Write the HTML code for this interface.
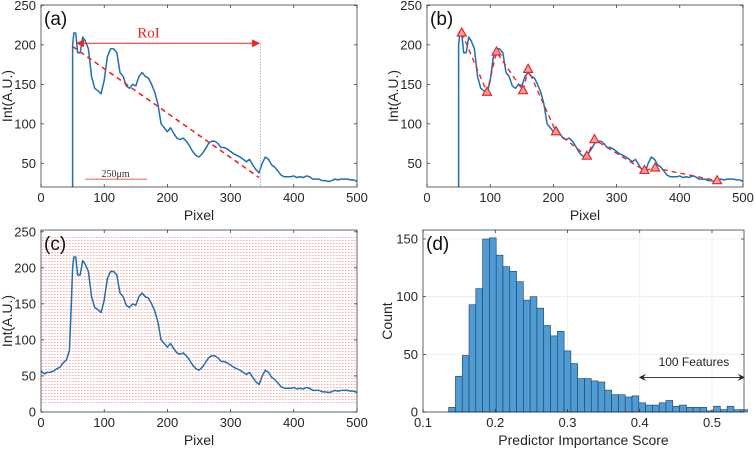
<!DOCTYPE html>
<html><head><meta charset="utf-8">
<style>
html,body{margin:0;padding:0;background:#fff;}
svg{display:block;font-family:"Liberation Sans",Arial,sans-serif;}
</style></head>
<body>
<svg id="fig" width="755" height="451" viewBox="0 0 755 451" xmlns="http://www.w3.org/2000/svg">
<defs>
<pattern id="dots" width="3" height="3" patternUnits="userSpaceOnUse">
<rect x="0" y="0" width="1.6" height="1" fill="#f5b0b0"/>
</pattern>
<marker id="arrR" markerWidth="8" markerHeight="8" refX="7" refY="4" orient="auto"><path d="M0,0 L8,4 L0,8 z" fill="#e8272a"/></marker>
<marker id="arrL" markerWidth="8" markerHeight="8" refX="1" refY="4" orient="auto"><path d="M8,0 L0,4 L8,8 z" fill="#e8272a"/></marker>
<marker id="kR" markerWidth="8" markerHeight="8" refX="7" refY="4" orient="auto"><path d="M0,0 L8,4 L0,8 L3,4 z" fill="#222"/></marker>
<marker id="kL" markerWidth="8" markerHeight="8" refX="1" refY="4" orient="auto"><path d="M8,0 L0,4 L8,8 L5,4 z" fill="#222"/></marker>
</defs>
</svg>
<script>
// ---- data ----
const pixelX = [0,5,10,15,20,25,30,35,40,45,48,50,52,55,58,62,66,70,75,80,85,90,95,100,105,110,115,120,125,130,135,140,145,150,155,160,165,170,175,180,185,190,195,200,205,210,215,220,225,230,235,240,245,250,255,260,265,270,275,280,285,290,295,300,305,310,315,320,325,330,335,340,345,350,355,360,365,370,375,380,385,390,395,400,405,410,415,420,425,430,435,440,445,450,455,460,465,470,475,480,485,490,495,500];
const intensity = [57,53,55,55,57,60,62,68,72,85,150,200,215,215,190,190,210,205,195,160,145,142,138,155,185,195,195,190,165,160,148,145,150,148,160,165,160,158,150,140,125,100,95,90,95,88,82,80,82,78,72,65,60,58,62,68,75,78,78,75,70,70,68,65,62,60,58,55,52,55,48,42,38,50,58,55,48,45,40,35,33,33,33,34,32,33,32,34,33,30,30,30,28,28,27,28,30,29,30,30,30,29,29,27];
const peakX = [55,95,110,152,160,204,253,265,344,361,459];
const peakY = [215,140,191,142,169,90,59,80,41,44,28];
const binStart = 0.1355;
const binWidth = 0.0094;
const binCounts = [4,31,49,93,107,150,151,136,126,122,113,97,100,90,75,66,70,53,42,29,29,27,26,19,15,15,13,14,8,6,6,8,10,5,6,4,4,4,1,5,2,5,2,2];
const xTicksPixel = [0,100,200,300,400,500];
const yTicksAB = [50,100,150,200,250];
const yTicksC = [0,50,100,150,200,250];
const xTicksD = [0.1,0.2,0.3,0.4,0.5];
const yTicksD = [0,50,100,150];

const NS="http://www.w3.org/2000/svg";
const svg=document.getElementById('fig');
function mk(tag,attrs,parent,text){const e=document.createElementNS(NS,tag);for(const k in attrs)e.setAttribute(k,attrs[k]);if(text!==undefined)e.textContent=text;(parent||svg).appendChild(e);return e;}

function panel(name,L,R,T,B,x0,x1,y0,y1){
  const g=mk('g',{});
  
  
  return {g,L,R,T,B,sx:v=>L+(v-x0)/(x1-x0)*(R-L),sy:v=>B-(v-y0)/(y1-y0)*(B-T)};
}
function axes(p,xt,yt,xfmt,grid,xlabel,ylabel,letter,lx){
  const {g}=p;
  if(grid){
    xt.forEach(v=>{const l=mk('line',{x1:p.sx(v),x2:p.sx(v),y1:p.T,y2:p.B,stroke:'#ececec','stroke-width':0.8},g);});
    yt.forEach(v=>{const l=mk('line',{x1:p.L,x2:p.R,y1:p.sy(v),y2:p.sy(v),stroke:'#ececec','stroke-width':0.8},g);});
  }
  return function(){
    const box=mk('rect',{x:p.L,y:p.T,width:p.R-p.L,height:p.B-p.T,fill:'none',stroke:'#262626','stroke-width':0.7},g);
    
    xt.forEach(v=>{const x=p.sx(v);
      mk('line',{x1:x,x2:x,y1:p.B,y2:p.B-3,stroke:'#262626','stroke-width':0.7},g);
      mk('line',{x1:x,x2:x,y1:p.T,y2:p.T+3,stroke:'#262626','stroke-width':0.7},g);
      const t=mk('text',{x:x,y:p.B+15,'font-size':13,'text-anchor':'middle',fill:'#262626'},g,xfmt(v));
      });
    yt.forEach(v=>{const y=p.sy(v);
      mk('line',{x1:p.L,x2:p.L+3,y1:y,y2:y,stroke:'#262626','stroke-width':0.7},g);
      mk('line',{x1:p.R,x2:p.R-3,y1:y,y2:y,stroke:'#262626','stroke-width':0.7},g);
      const t=mk('text',{x:p.L-5,y:y+4.5,'font-size':13,'text-anchor':'end',fill:'#262626'},g,String(v));
      });
    const xl=mk('text',{x:(p.L+p.R)/2,y:p.B+33,'font-size':14,'text-anchor':'middle',fill:'#262626'},g,xlabel);
    
    const cy=(p.T+p.B)/2;
    const yl=mk('text',{x:lx,y:cy,'font-size':14,'text-anchor':'middle',fill:'#262626',transform:`rotate(-90 ${lx} ${cy})`},g,ylabel);
    
    const pl=mk('text',{x:p.L+3,y:p.T+20,'font-size':19,fill:'#111'},g,letter);
    
  };
}
function curve(p,startAt,name){
  let d='';let first=true;
  if(startAt!==null){d='M'+p.sx(startAt).toFixed(2)+','+p.B;first=false;}
  pixelX.forEach((x,i)=>{
    if(startAt!==null&&x<startAt)return;
    let y=p.sy(intensity[i]);if(y>p.B)y=p.B;d+=(first?'M':'L')+p.sx(x).toFixed(2)+','+y.toFixed(2);first=false;});
  const c=mk('path',{d,fill:'none',stroke:'#1f6fb4','stroke-width':1.5,'stroke-linejoin':'round'},p.g);
  
}
const fmtInt=v=>String(v);

// (a)
const pa=panel('panel-a',41,357,5,187,0,500,20,250.5);
const fa=axes(pa,xTicksPixel,yTicksAB,fmtInt,false,'Pixel','Int(A.U.)','(a)',12);
curve(pa,50,'intensity-line');
const vl=mk('line',{x1:pa.sx(347),x2:pa.sx(347),y1:pa.sy(202),y2:pa.B,stroke:'#999','stroke-width':0.8,'stroke-dasharray':'1.5,1.5'},pa.g);

const dl=mk('line',{x1:pa.sx(50),y1:pa.sy(198),x2:pa.sx(345),y2:pa.sy(32),stroke:'#e8272a','stroke-width':1.6,'stroke-dasharray':'5,4'},pa.g);

const ra=mk('line',{x1:pa.sx(57),x2:pa.sx(345),y1:pa.sy(202),y2:pa.sy(202),stroke:'#e8272a','stroke-width':1,'marker-start':'url(#arrL)','marker-end':'url(#arrR)'},pa.g);

const rt=mk('text',{x:pa.sx(170),y:pa.sy(207)-2,'font-size':15,'font-family':'Liberation Serif,serif','text-anchor':'middle',fill:'#e8272a'},pa.g,'RoI');

const sb=mk('line',{x1:pa.sx(70),x2:pa.sx(168),y1:pa.sy(30),y2:pa.sy(30),stroke:'#e8272a','stroke-width':0.8},pa.g);

const st=mk('text',{x:pa.sx(118),y:pa.sy(30)-2,'font-size':10,'font-family':'Liberation Serif,serif','text-anchor':'middle',fill:'#333'},pa.g,'250μm');

fa();

// (b)
const pb=panel('panel-b',427,743,5,187,0,500,20,250.5);
const fb=axes(pb,xTicksPixel,yTicksAB,fmtInt,false,'Pixel','Int(A.U.)','(b)',398);
curve(pb,50,'intensity-line');
let pd='';peakX.forEach((x,i)=>{pd+=(i?'L':'M')+pb.sx(x)+','+pb.sy(peakY[i]);});
const pl=mk('path',{d:pd,fill:'none',stroke:'#e8272a','stroke-width':1.4,'stroke-dasharray':'5,4'},pb.g);

peakX.forEach((x,i)=>{const cx=pb.sx(x),cy=pb.sy(peakY[i]);
  const t=mk('path',{d:`M${cx},${cy-5}L${cx+4.5},${cy+3}L${cx-4.5},${cy+3}Z`,fill:'#f7a0a0',stroke:'#e8272a','stroke-width':1.2},pb.g);
  });
fb();

// (c)
const pc=panel('panel-c',41,357,230,412,0,500,0,252.5);
const fc=axes(pc,xTicksPixel,yTicksC,fmtInt,false,'Pixel','Int(A.U.)','(c)',12);
const bg=mk('rect',{x:pc.L,y:pc.sy(245),width:pc.R-pc.L,height:pc.sy(10)-pc.sy(245),fill:'url(#dots)'},pc.g);

curve(pc,null,'intensity-line');
fc();

// (d)
const pdp=panel('panel-d',423,744,230,412,0.1,0.5443,0,157.8);
const fd=axes(pdp,xTicksD,yTicksD,v=>String(v),true,'Predictor Importance Score','Count','(d)',392);
binCounts.forEach((c,i)=>{const a=binStart+i*binWidth,b=a+binWidth;
  const x=pdp.sx(a),w=pdp.sx(b)-x,y=pdp.sy(c);
  const r=mk('rect',{x:x,y:y,width:w,height:pdp.B-y,fill:'#4f9bd3',stroke:'#1c3f5e','stroke-width':0.6},pdp.g);
  });
const fa2=mk('line',{x1:pdp.sx(0.4),x2:pdp.R,y1:pdp.sy(30),y2:pdp.sy(30),stroke:'#222','stroke-width':0.9,'marker-start':'url(#kL)','marker-end':'url(#kR)'},pdp.g);

const ft=mk('text',{x:pdp.sx(0.475),y:pdp.sy(40),'font-size':12,'text-anchor':'middle',fill:'#222'},pdp.g,'100 Features');

fd();
</script>
</body></html>
